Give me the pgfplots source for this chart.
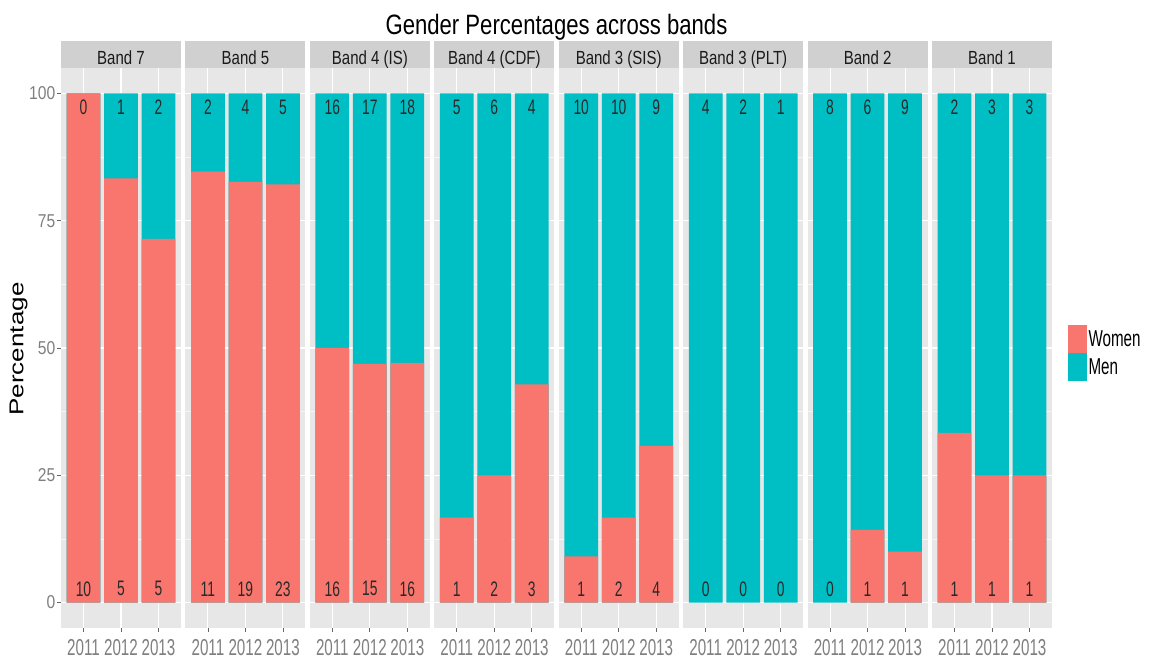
\documentclass[border=0pt]{standalone}
\usepackage{pgfplots}
\pgfplotsset{compat=1.18}
\usepackage{fontspec}
\setmainfont{Liberation Sans}
\newfontfamily\cf[FakeStretch=0.79]{Liberation Sans}
\newfontfamily\nf[FakeStretch=0.66]{Liberation Sans}
\newfontfamily\yf[FakeStretch=0.84]{Liberation Sans}
\newfontfamily\pf[FakeStretch=1.3]{Liberation Sans}
\newcommand\fs[1]{\fontsize{#1}{#1}\selectfont}
\definecolor{women}{HTML}{F8766D}
\definecolor{men}{HTML}{00BFC4}
\definecolor{panelbg}{HTML}{E7E7E7}
\definecolor{stripbg}{HTML}{D0D0D0}
\definecolor{ticklab}{HTML}{7F7F7F}
\definecolor{tickcol}{HTML}{666666}
\definecolor{labcol}{HTML}{2A2A2A}
\definecolor{striptext}{HTML}{1A1A1A}
\pgfplotsset{
  every axis title shift=0pt,
  panel/.style={
    scale only axis, width=120pt, height=560pt, anchor=south west,
    xmin=0.4, xmax=3.6, ymin=-5, ymax=105,
    axis background/.style={fill=panelbg},
    axis line style={draw=none},
    clip=false,
    xtick={1,2,3}, xticklabels={2011,2012,2013},
    ytick={0,25,50,75,100},
    minor ytick={12.5,37.5,62.5,87.5},
    xmajorgrids, ymajorgrids, yminorgrids,
    major grid style={white, line width=1.1pt},
    minor grid style={white!60!panelbg, line width=0.5pt},
    tick align=outside, major tick length=4pt, minor tick length=0pt,
    xtick pos=left, ytick pos=left,
    tick style={color=tickcol, line width=0.8pt},
    minor tick style={draw=none},
    /pgf/number format/assume math mode=true,
    xticklabel style={font=\nf\fs{23}, text=ticklab, inner sep=0pt, yshift=-7.5pt},
    yticklabel style={font=\yf\fs{18.6}, text=ticklab, inner sep=0pt, xshift=-1.5pt},
    title style={at={(0.5,1)}, anchor=south, yshift=0pt, fill=stripbg,
      minimum width=120pt, minimum height=27pt, inner sep=0pt, outer sep=0pt,
      text height=20pt, text depth=0pt, font=\cf\fs{19}, text=striptext},
  },
  rest/.style={yticklabels={}, ytick style={draw=none}},
  menbar/.style={ybar, bar width=0.9, bar shift=0pt, fill=men, draw=none, forget plot},
  womenbar/.style={ybar, bar width=0.9, bar shift=0pt, fill=women, draw=none, forget plot},
  lab/.style={draw=none, mark=none, only marks, nodes near coords, point meta=explicit symbolic,
    nodes near coords align=center,
    nodes near coords style={font=\nf\fs{21}, text=labcol, anchor=center}, forget plot},
}
\begin{document}
\begin{tikzpicture}[x=1pt,y=1pt]
\useasboundingbox (0,0) rectangle (1149,661);
\node[font=\cf\fs{28}, anchor=base] at (556.5,626) {Gender Percentages across bands};
\node[font=\pf\fs{20}, rotate=90, anchor=center] at (18.5,312) {Percentage};

\begin{axis}[panel, at={(61pt,33pt)}, title={Band 7}]
\addplot[menbar] coordinates {(1,100) (2,100) (3,100)};
\addplot[womenbar] coordinates {(1,100) (2,83.33) (3,71.43)};
\addplot[lab] coordinates {(1,97.3) [0] (2,97.3) [1] (3,97.3) [2] (1,2.7) [10] (2,2.7) [5] (3,2.7) [5]};
\end{axis}

\begin{axis}[panel, rest, at={(185.43pt,33pt)}, title={Band 5}]
\addplot[menbar] coordinates {(1,100) (2,100) (3,100)};
\addplot[womenbar] coordinates {(1,84.62) (2,82.61) (3,82.14)};
\addplot[lab] coordinates {(1,97.3) [2] (2,97.3) [4] (3,97.3) [5] (1,2.7) [11] (2,2.7) [19] (3,2.7) [23]};
\end{axis}

\begin{axis}[panel, rest, at={(309.86pt,33pt)}, title={Band 4 (IS)}]
\addplot[menbar] coordinates {(1,100) (2,100) (3,100)};
\addplot[womenbar] coordinates {(1,50) (2,46.88) (3,47.06)};
\addplot[lab] coordinates {(1,97.3) [16] (2,97.3) [17] (3,97.3) [18] (1,2.7) [16] (2,2.7) [15] (3,2.7) [16]};
\end{axis}

\begin{axis}[panel, rest, at={(434.29pt,33pt)}, title={Band 4 (CDF)}]
\addplot[menbar] coordinates {(1,100) (2,100) (3,100)};
\addplot[womenbar] coordinates {(1,16.67) (2,25) (3,42.86)};
\addplot[lab] coordinates {(1,97.3) [5] (2,97.3) [6] (3,97.3) [4] (1,2.7) [1] (2,2.7) [2] (3,2.7) [3]};
\end{axis}

\begin{axis}[panel, rest, at={(558.72pt,33pt)}, title={Band 3 (SIS)}]
\addplot[menbar] coordinates {(1,100) (2,100) (3,100)};
\addplot[womenbar] coordinates {(1,9.09) (2,16.67) (3,30.77)};
\addplot[lab] coordinates {(1,97.3) [10] (2,97.3) [10] (3,97.3) [9] (1,2.7) [1] (2,2.7) [2] (3,2.7) [4]};
\end{axis}

\begin{axis}[panel, rest, at={(683.15pt,33pt)}, title={Band 3 (PLT)}]
\addplot[menbar] coordinates {(1,100) (2,100) (3,100)};
\addplot[lab] coordinates {(1,97.3) [4] (2,97.3) [2] (3,97.3) [1] (1,2.7) [0] (2,2.7) [0] (3,2.7) [0]};
\end{axis}

\begin{axis}[panel, rest, at={(807.58pt,33pt)}, title={Band 2}]
\addplot[menbar] coordinates {(1,100) (2,100) (3,100)};
\addplot[womenbar] coordinates {(2,14.29) (3,10)};
\addplot[lab] coordinates {(1,97.3) [8] (2,97.3) [6] (3,97.3) [9] (1,2.7) [0] (2,2.7) [1] (3,2.7) [1]};
\end{axis}

\begin{axis}[panel, rest, at={(932.01pt,33pt)}, title={Band 1},
  legend style={at={(1,0.491)}, anchor=west, xshift=16pt, draw=none, fill=none,
    inner sep=0pt, outer sep=0pt, row sep=0pt, font=\nf\fs{23},
    nodes={inner xsep=1.5pt, inner ysep=0pt}},
  legend cell align=left,
  legend image code/.code={\fill[#1] (0pt,-14pt) rectangle (19pt,14pt);}]
\addlegendimage{fill=women, draw=none}
\addlegendentry{Women}
\addlegendimage{fill=men, draw=none}
\addlegendentry{Men}
\addplot[menbar] coordinates {(1,100) (2,100) (3,100)};
\addplot[womenbar] coordinates {(1,33.33) (2,25) (3,25)};
\addplot[lab] coordinates {(1,97.3) [2] (2,97.3) [3] (3,97.3) [3] (1,2.7) [1] (2,2.7) [1] (3,2.7) [1]};
\end{axis}
\end{tikzpicture}
\end{document}
